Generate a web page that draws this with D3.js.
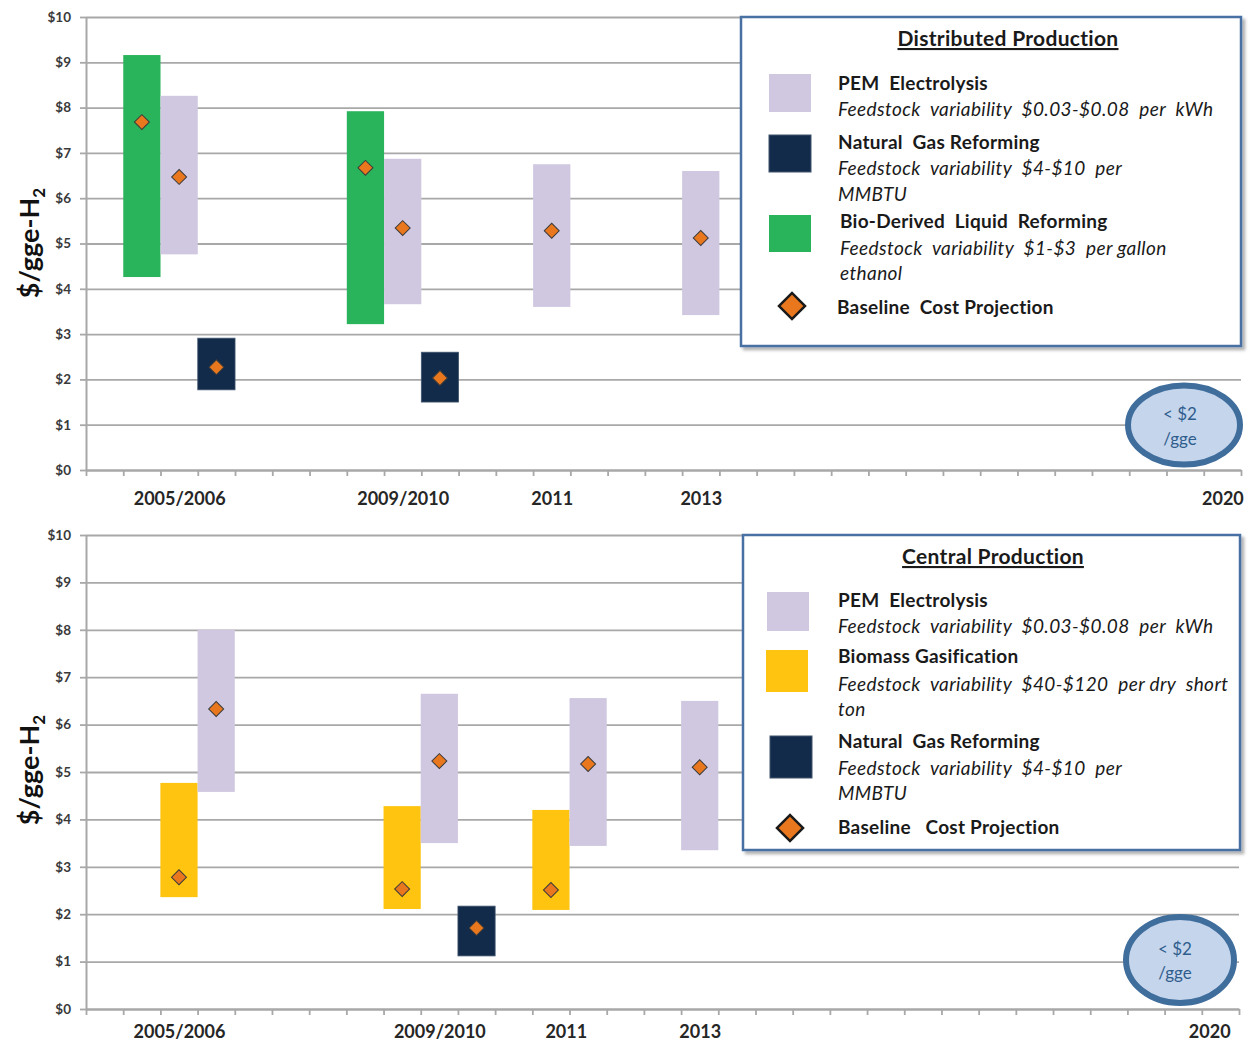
<!DOCTYPE html>
<html><head><meta charset="utf-8">
<script src="https://cdn.jsdelivr.net/npm/d3@7"></script>
<style>
body{margin:0;background:#fff}
svg{display:block}
text{font-family:Lato,"Open Sans",sans-serif}
</style>
</head><body>
<svg id="c" width="1255" height="1042"></svg>
<script>
// ---------- DATA ----------
const yTickValues = [0, 1, 2, 3, 4, 5, 6, 7, 8, 9, 10];
const slotCount = 31;

// Distributed production (top)
const distLabels = ["2005/2006", "2009/2010", "2011", "2013", "2020"];
const distLabelSlots = [2, 8, 12, 16, 30];
const distBio = [
  {slot: 1, low: 4.26, high: 9.16, base: 7.68},
  {slot: 7, low: 3.22, high: 7.92, base: 6.67}
];
const distPEM = [
  {slot: 2, low: 4.76, high: 8.26, base: 6.47},
  {slot: 8, low: 3.66, high: 6.87, base: 5.34},
  {slot: 12, low: 3.60, high: 6.75, base: 5.28},
  {slot: 16, low: 3.42, high: 6.60, base: 5.12}
];
const distNG = [
  {slot: 3, low: 1.77, high: 2.91, base: 2.27},
  {slot: 9, low: 1.50, high: 2.60, base: 2.03}
];

// Central production (bottom)
const centLabels = ["2005/2006", "2009/2010", "2011", "2013", "2020"];
const centLabelSlots = [2, 9, 12.4, 16, 29.7];
const centBiomass = [
  {slot: 2, low: 2.36, high: 4.77, base: 2.78},
  {slot: 8, low: 2.11, high: 4.28, base: 2.53},
  {slot: 12, low: 2.09, high: 4.20, base: 2.51}
];
const centPEM = [
  {slot: 3, low: 4.58, high: 8.00, base: 6.33},
  {slot: 9, low: 3.50, high: 6.65, base: 5.23},
  {slot: 13, low: 3.44, high: 6.56, base: 5.17},
  {slot: 16, low: 3.35, high: 6.50, base: 5.10}
];
const centNG = [
  {slot: 10, low: 1.12, high: 2.17, base: 1.71}
];

const targetText = ["< $2", "/gge"];

// ---------- COLORS ----------
const C = {
  pem: "#d0c8e0", ng: "#132b4a", bio: "#29b35a", biomass: "#fec40f",
  diamond: "#e8771e", grid: "#a8a8a8", text: "#3a3a3a",
  circleStroke: "#3f6d9c", circleFill: "#c5d5ec", circleText: "#2f5d8c", legendBorder: "#4a6fa3"
};

const svg = d3.select("#c");
const defs = svg.append("defs");
const f = defs.append("filter").attr("id","sh").attr("x","-5%").attr("y","-5%").attr("width","115%").attr("height","115%");
f.append("feDropShadow").attr("dx",3).attr("dy",3).attr("stdDeviation",1.5).attr("flood-color","#000").attr("flood-opacity",0.3);

const diamond = (size) => d3.symbol().type(d3.symbolSquare).size(size);

function drawPanel(cfg) {
  const x = d3.scaleLinear().domain([0, slotCount]).range([cfg.x0, cfg.x1]);
  const y = d3.scaleLinear().domain([0, 10]).range([cfg.y0, cfg.y1]);
  const g = svg.append("g");

  // gridlines
  g.append("g").attr("transform", `translate(${cfg.x0},0)`)
    .call(d3.axisLeft(y).tickValues(yTickValues).tickSize(-(cfg.x1 - cfg.x0)).tickFormat(""))
    .call(s => { s.select(".domain").remove(); s.selectAll("line").attr("stroke", C.grid).attr("stroke-width", 1.8); });

  // y axis
  g.append("g").attr("transform", `translate(${cfg.x0},0)`)
    .call(d3.axisLeft(y).tickValues(yTickValues).tickSize(6).tickSizeOuter(0).tickPadding(9).tickFormat(d => "$" + d))
    .call(s => {
      s.select(".domain").attr("stroke", C.grid).attr("stroke-width", 2);
      s.selectAll("line").attr("stroke", C.grid).attr("stroke-width", 1.8);
      s.selectAll("text").attr("font-size", 13.5).attr("font-weight", 700).attr("fill", C.text);
    });

  // x axis tick marks
  g.append("g").attr("transform", `translate(0,${cfg.y0})`)
    .call(d3.axisBottom(x).tickValues(d3.range(slotCount + 1)).tickSize(6).tickSizeOuter(0).tickFormat(""))
    .call(s => {
      s.select(".domain").attr("stroke", C.grid).attr("stroke-width", 2);
      s.selectAll("line").attr("stroke", C.grid).attr("stroke-width", 1.8);
    });

  // x labels
  g.append("g").attr("transform", `translate(0,${cfg.y0})`)
    .call(d3.axisBottom(x).tickValues(cfg.labelSlots.map(v => v + 0.5)).tickSize(0).tickPadding(cfg.labelPad)
      .tickFormat((d, i) => cfg.labels[i]))
    .call(s => {
      s.select(".domain").remove();
      s.selectAll("text").attr("font-size", 18).attr("font-weight", 700).attr("fill", "#262626");
    });

  // bars
  cfg.series.forEach(sr => {
    g.append("g").selectAll("rect").data(sr.data).join("rect")
      .attr("x", d => x(d.slot)).attr("width", d => x(d.slot + 1) - x(d.slot))
      .attr("y", d => y(d.high)).attr("height", d => y(d.low) - y(d.high))
      .attr("fill", sr.color)
      .attr("stroke", sr.color === C.ng ? "#40556e" : "none").attr("stroke-width", 0.8);
  });
  // diamonds
  cfg.series.forEach(sr => {
    g.append("g").selectAll("path").data(sr.data).join("path")
      .attr("d", diamond(112))
      .attr("transform", d => `translate(${x(d.slot + 0.5)},${y(d.base)}) rotate(45)`)
      .attr("fill", C.diamond).attr("stroke", "#3b3b3b").attr("stroke-width", 1);
  });

  // y title
  const yt = g.append("text")
    .attr("transform", `translate(${cfg.titleX},${cfg.titleY}) rotate(-90)`)
    .attr("text-anchor", "middle").attr("font-size", 27).attr("font-weight", 700).attr("fill", "#111");
  yt.append("tspan").text("$/gge-H");
  yt.append("tspan").text("2").attr("font-size", 17).attr("dy", 6);

  // legend box
  const L = cfg.legend;
  g.append("rect").attr("x", L.x).attr("y", L.y).attr("width", L.w).attr("height", L.h)
    .attr("fill", "#fff").attr("stroke", C.legendBorder).attr("stroke-width", 2.5).attr("filter", "url(#sh)");
  g.append("text").attr("x", L.titleX).attr("y", L.titleY).attr("text-anchor", "middle")
    .attr("font-size", 21).attr("font-weight", 700).attr("fill", "#1a1a1a").attr("letter-spacing", 0.3)
    .attr("text-decoration", "underline").text(L.title);
  L.swatches.forEach(s => {
    g.append("rect").attr("x", s.x).attr("y", s.y).attr("width", s.w).attr("height", s.h).attr("fill", s.color)
      .attr("stroke", s.color === C.ng ? "#40556e" : "none");
  });
  g.append("path").attr("d", diamond(340))
    .attr("transform", `translate(${L.dx},${L.dy}) rotate(45)`)
    .attr("fill", C.diamond).attr("stroke", "#1a1a1a").attr("stroke-width", 2.5);
  L.lines.forEach(t => {
    g.append("text").attr("x", t.x).attr("y", t.y).attr("font-size", 19)
      .attr("letter-spacing", t.b ? 0.25 : 0.4)
      .attr("font-weight", t.b ? 700 : 400).attr("font-style", t.b ? "normal" : "italic")
      .attr("fill", "#1a1a1a").attr("xml:space", "preserve").style("white-space", "pre").text(t.s);
  });

  // target ellipse
  const E = cfg.ellipse;
  g.append("ellipse").attr("cx", E.cx).attr("cy", E.cy).attr("rx", E.rx).attr("ry", E.ry)
    .attr("fill", C.circleFill).attr("stroke", C.circleStroke).attr("stroke-width", 6);
  g.selectAll(null).data(targetText).join("text")
    .attr("x", E.tx).attr("y", (d, i) => E.ty + i * E.lh).attr("text-anchor", "middle")
    .attr("font-size", 17).attr("fill", C.circleText).text(d => d);
}

drawPanel({
  x0: 86, x1: 1241, y0: 470, y1: 17, labelPad: 22,
  labels: distLabels, labelSlots: distLabelSlots,
  series: [{data: distBio, color: C.bio}, {data: distPEM, color: C.pem}, {data: distNG, color: C.ng}],
  titleX: 39, titleY: 243,
  legend: {
    x: 741, y: 17, w: 500, h: 329, title: "Distributed Production", titleX: 1008, titleY: 46,
    swatches: [
      {x: 769, y: 74, w: 42, h: 38, color: C.pem},
      {x: 769, y: 135, w: 42, h: 37, color: C.ng},
      {x: 769, y: 215, w: 42, h: 37, color: C.bio}
    ],
    dx: 792, dy: 306,
    lines: [
      {x: 838, y: 90, s: "PEM  Electrolysis", b: true},
      {x: 838, y: 116, s: "Feedstock  variability  $0.03-$0.08  per  kWh"},
      {x: 838, y: 149, s: "Natural  Gas Reforming", b: true},
      {x: 838, y: 175, s: "Feedstock  variability  $4-$10  per"},
      {x: 838, y: 201, s: "MMBTU"},
      {x: 840, y: 228, s: "Bio-Derived  Liquid  Reforming", b: true},
      {x: 840, y: 255, s: "Feedstock  variability  $1-$3  per gallon"},
      {x: 840, y: 280, s: "ethanol"},
      {x: 837, y: 314, s: "Baseline  Cost Projection", b: true}
    ]
  },
  ellipse: {cx: 1184, cy: 425, rx: 56, ry: 39.5, tx: 1180, ty: 420, lh: 25}
});

drawPanel({
  x0: 86, x1: 1239, y0: 1009, y1: 535, labelPad: 16,
  labels: centLabels, labelSlots: centLabelSlots,
  series: [{data: centBiomass, color: C.biomass}, {data: centPEM, color: C.pem}, {data: centNG, color: C.ng}],
  titleX: 39, titleY: 770,
  legend: {
    x: 743, y: 535, w: 497, h: 315, title: "Central Production", titleX: 993, titleY: 564,
    swatches: [
      {x: 767, y: 592, w: 42, h: 39, color: C.pem},
      {x: 766, y: 650, w: 42, h: 42, color: C.biomass},
      {x: 770, y: 736, w: 42, h: 42, color: C.ng}
    ],
    dx: 790, dy: 828,
    lines: [
      {x: 838, y: 607, s: "PEM  Electrolysis", b: true},
      {x: 838, y: 633, s: "Feedstock  variability  $0.03-$0.08  per  kWh"},
      {x: 838, y: 663, s: "Biomass Gasification", b: true},
      {x: 838, y: 691, s: "Feedstock  variability  $40-$120  per dry  short"},
      {x: 838, y: 716, s: "ton"},
      {x: 838, y: 748, s: "Natural  Gas Reforming", b: true},
      {x: 838, y: 775, s: "Feedstock  variability  $4-$10  per"},
      {x: 838, y: 800, s: "MMBTU"},
      {x: 838, y: 834, s: "Baseline   Cost Projection", b: true}
    ]
  },
  ellipse: {cx: 1180, cy: 960, rx: 54, ry: 43, tx: 1175, ty: 955, lh: 24}
});
</script>
</body></html>
